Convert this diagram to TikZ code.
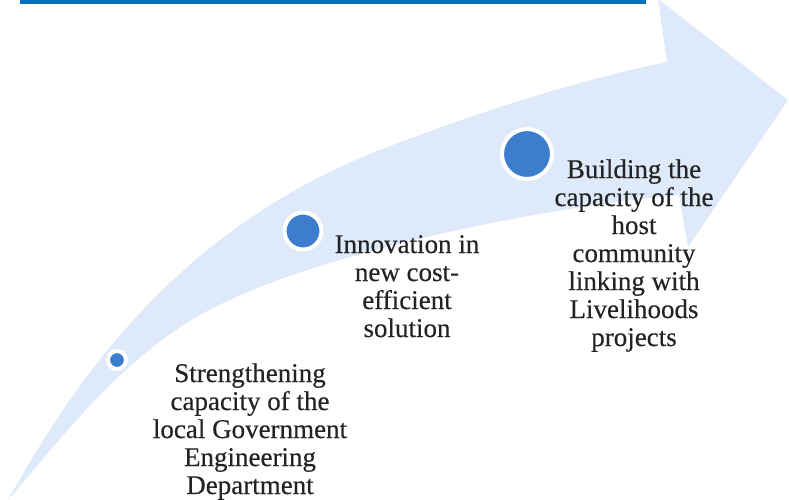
\documentclass[tikz,border=0pt]{standalone}
\usepackage{fontspec}
\setmainfont{Liberation Serif}[FakeBold=0.35]

\definecolor{arrowblue}{RGB}{222,233,250}
\definecolor{dotblue}{RGB}{61,125,206}
\definecolor{lineblue}{RGB}{0,112,192}
\definecolor{textgray}{RGB}{35,35,35}

\tikzset{
  milestone/.style = {shape=circle, fill=dotblue, draw=white,
                      line width=4pt, inner sep=0pt},
  textblock/.style = {align=center, inner sep=0pt, text=textgray,
                      font=\fontsize{27}{28}\selectfont},
  arrowbody/.style = {fill=arrowblue}
}

\begin{document}
\begin{tikzpicture}
[
x=1pt, y=-1pt
  ]
\useasboundingbox (0,0) rectangle (789,499);

\coordinate (lineL) at (20,2);
\coordinate (lineR) at (646,2);
\draw[lineblue, line width=4pt] (lineL) -- (lineR);

\fill[arrowbody] (8,500)
  .. controls (70,390) and (170,232) .. (380,150)
  .. controls (480,111) and (580,80) .. (667,62)
  -- (658,-1) -- (788,100) -- (688,247) -- (679,195)
  .. controls (520,210) and (300,258) .. (200,315)
  .. controls (120,360) and (60,440) .. (8,500) -- cycle;

\node[milestone, minimum size=18pt] (dotA) at (117,360) {};
\node[milestone, minimum size=37pt] (dotB) at (303,231) {};
\node[milestone, minimum size=50pt] (dotC) at (527,154) {};

\node[textblock, anchor=base] (strength) at (250,494)
  {Strengthening\\capacity of the\\local Government\\Engineering\\Department};
\node[textblock, anchor=base] (innovation) at (407,337)
  {Innovation in\\new cost-\\efficient\\solution};
\node[textblock, anchor=base] (building) at (634,346)
  {Building the\\capacity of the\\host\\community\\linking with\\Livelihoods\\projects};
\end{tikzpicture}
\end{document}
